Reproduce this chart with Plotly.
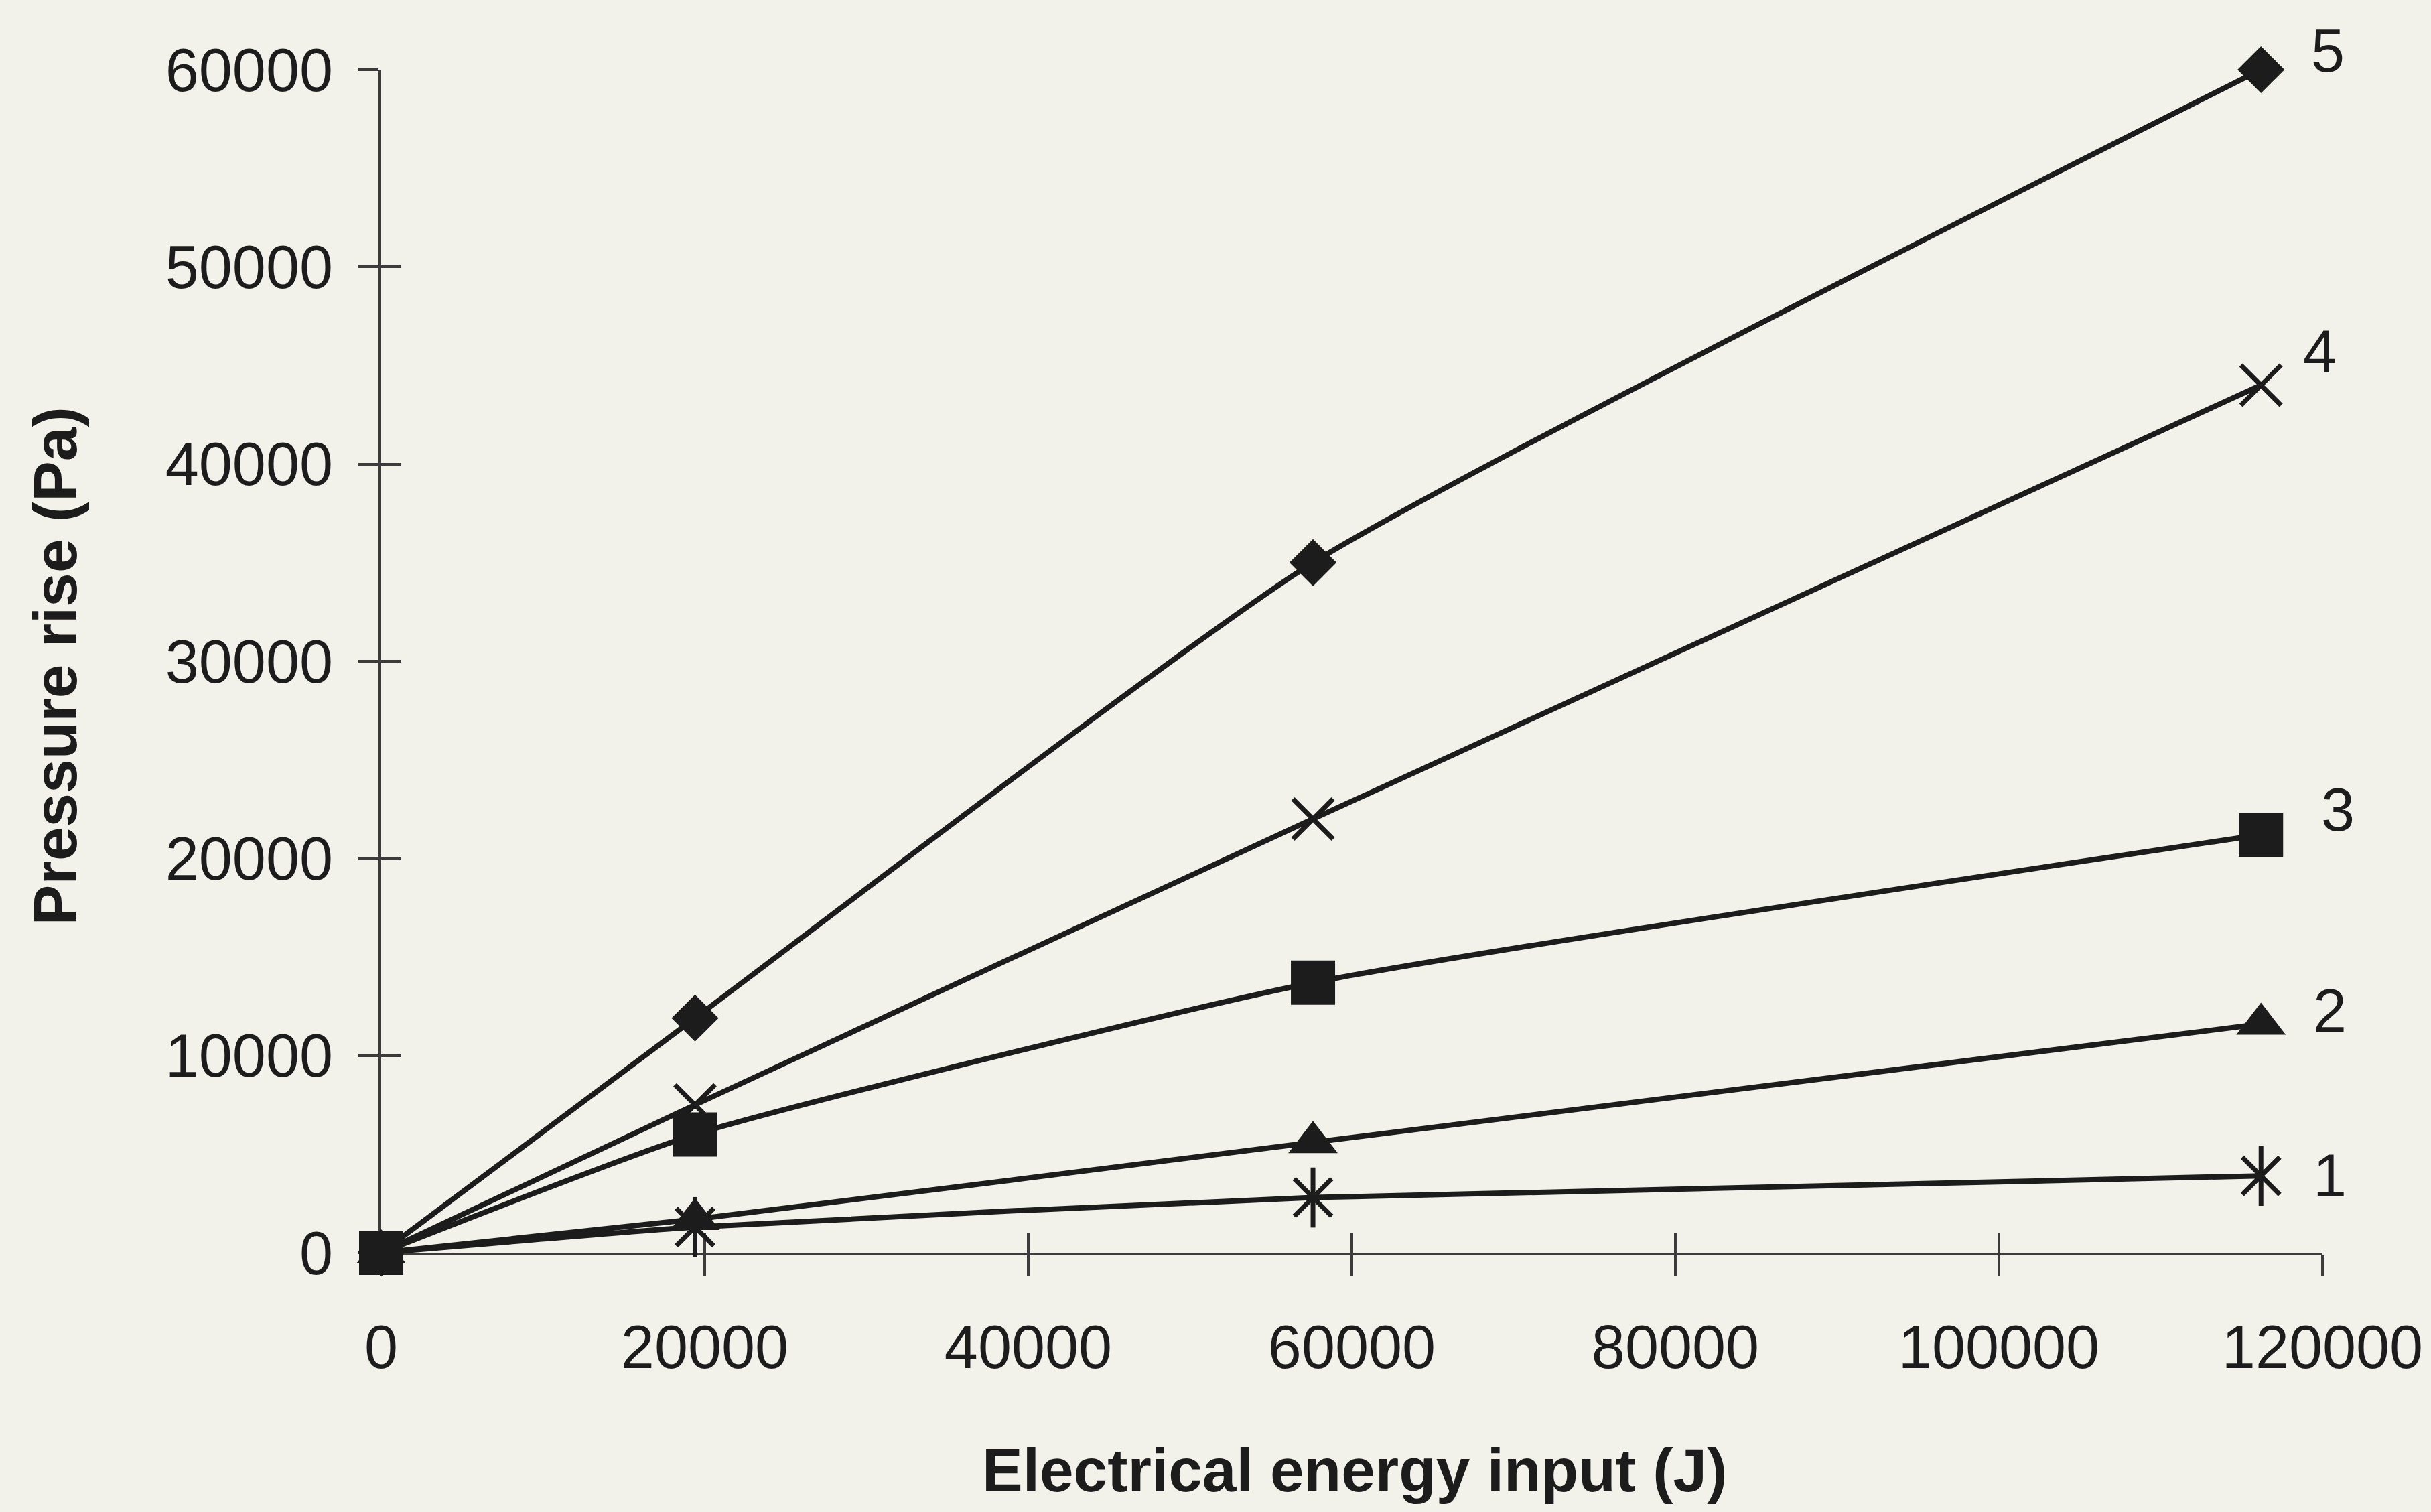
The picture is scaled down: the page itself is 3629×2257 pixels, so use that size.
import plotly.graph_objects as go

# Electrical energy input (J) at each measurement
energy = [0, 19400, 57600, 116200]

# Pressure rise (Pa) for the five cases
case_names = ["1", "2", "3", "4", "5"]
pressure_1 = [0, 1300, 2800, 3900]
pressure_2 = [0, 1700, 5600, 11600]
pressure_3 = [0, 6000, 13700, 21200]
pressure_4 = [0, 7500, 22000, 44000]
pressure_5 = [0, 11900, 35000, 60000]

x_ticks = [0, 20000, 40000, 60000, 80000, 100000, 120000]
y_ticks = [0, 10000, 20000, 30000, 40000, 50000, 60000]

INK = "#1c1c1c"
AXIS = "#3c3c3c"
BG = "#f2f2eb"
FONT = "Liberation Sans, Arial, sans-serif"

series = [
    (pressure_1, dict(symbol="x-thin-open", size=56, color=INK, line=dict(width=7, color=INK))),
    (pressure_2, dict(symbol="triangle-up", size=64, color=INK, line=dict(width=0))),
    (pressure_3, dict(symbol="square", size=66, color=INK, line=dict(width=0))),
    (pressure_4, dict(symbol="x-thin-open", size=60, color=INK, line=dict(width=7, color=INK))),
    (pressure_5, dict(symbol="diamond", size=54, color=INK, line=dict(width=0))),
]
# label offsets (px) from the last point of each curve
label_shift = [(103, 0), (103, 20), (115, 37), (88, 50), (100, 28)]

fig = go.Figure()
for name, (vals, marker) in zip(case_names, series):
    fig.add_trace(go.Scatter(
        x=energy, y=vals, name=name, mode="lines+markers",
        line=dict(color=INK, width=8, shape="spline", smoothing=0.5),
        marker=marker, cliponaxis=False, showlegend=False,
    ))

# vertical stroke that completes the asterisk marker of case 1
fig.add_trace(go.Scatter(
    x=energy[1:], y=pressure_1[1:], mode="markers",
    marker=dict(symbol="line-ns-open", size=64, color=INK,
                line=dict(width=7, color=INK)),
    cliponaxis=False, showlegend=False, hoverinfo="skip",
))

# square drawn last so it sits on top at the common origin
fig.add_trace(go.Scatter(
    x=energy[:1], y=pressure_3[:1], mode="markers",
    marker=dict(symbol="square", size=66, color=INK, line=dict(width=0)),
    cliponaxis=False, showlegend=False, hoverinfo="skip",
))

# empty trace carrying the overlay axes used for the inward half of each tick
fig.add_trace(go.Scatter(x=[], y=[], xaxis="x2", yaxis="y2", showlegend=False))

for name, (vals, _), (dx, dy) in zip(case_names, series, label_shift):
    fig.add_annotation(
        x=energy[-1], y=vals[-1], text=name, showarrow=False,
        xshift=dx, yshift=dy, xanchor="center", yanchor="middle",
        font=dict(family=FONT, size=90, color=INK),
    )

fig.add_annotation(
    x=0.5014, y=-0.1835, xref="paper", yref="paper",
    text="<b>Electrical energy input (J)</b>", showarrow=False,
    xanchor="center", yanchor="middle",
    font=dict(family=FONT, size=91, color=INK),
)
fig.add_annotation(
    x=-0.168, y=0.496, xref="paper", yref="paper",
    text="<b>Pressure rise (Pa)</b>", showarrow=False, textangle=-90,
    xanchor="center", yanchor="middle",
    font=dict(family=FONT, size=91, color=INK),
)

axis_common = dict(
    showgrid=False, zeroline=False, layer="below traces",
    tickcolor=AXIS, tickwidth=4, ticklen=30,
)

fig.update_layout(
    width=3629, height=2257,
    margin=dict(l=569, r=158, t=104, b=387),
    paper_bgcolor=BG, plot_bgcolor=BG,
    font=dict(family=FONT, size=90, color=INK),
    xaxis=dict(
        range=[0, 120000], tickvals=x_ticks, ticktext=[str(v) for v in x_ticks],
        ticks="outside", showline=True, linecolor=AXIS, linewidth=4,
        ticklabelstandoff=30, **axis_common,
    ),
    yaxis=dict(
        range=[0, 60000], tickvals=y_ticks, ticktext=[str(v) for v in y_ticks],
        ticks="outside", showline=True, linecolor=AXIS, linewidth=4,
        ticklabelstandoff=20, **axis_common,
    ),
    xaxis2=dict(
        range=[0, 120000], tickvals=x_ticks, overlaying="x", anchor="y2",
        ticks="inside", showticklabels=False, showline=False, **axis_common,
    ),
    yaxis2=dict(
        range=[0, 60000], tickvals=y_ticks, overlaying="y", anchor="x2",
        ticks="inside", showticklabels=False, showline=False, **axis_common,
    ),
)

fig.write_html("out.html")
